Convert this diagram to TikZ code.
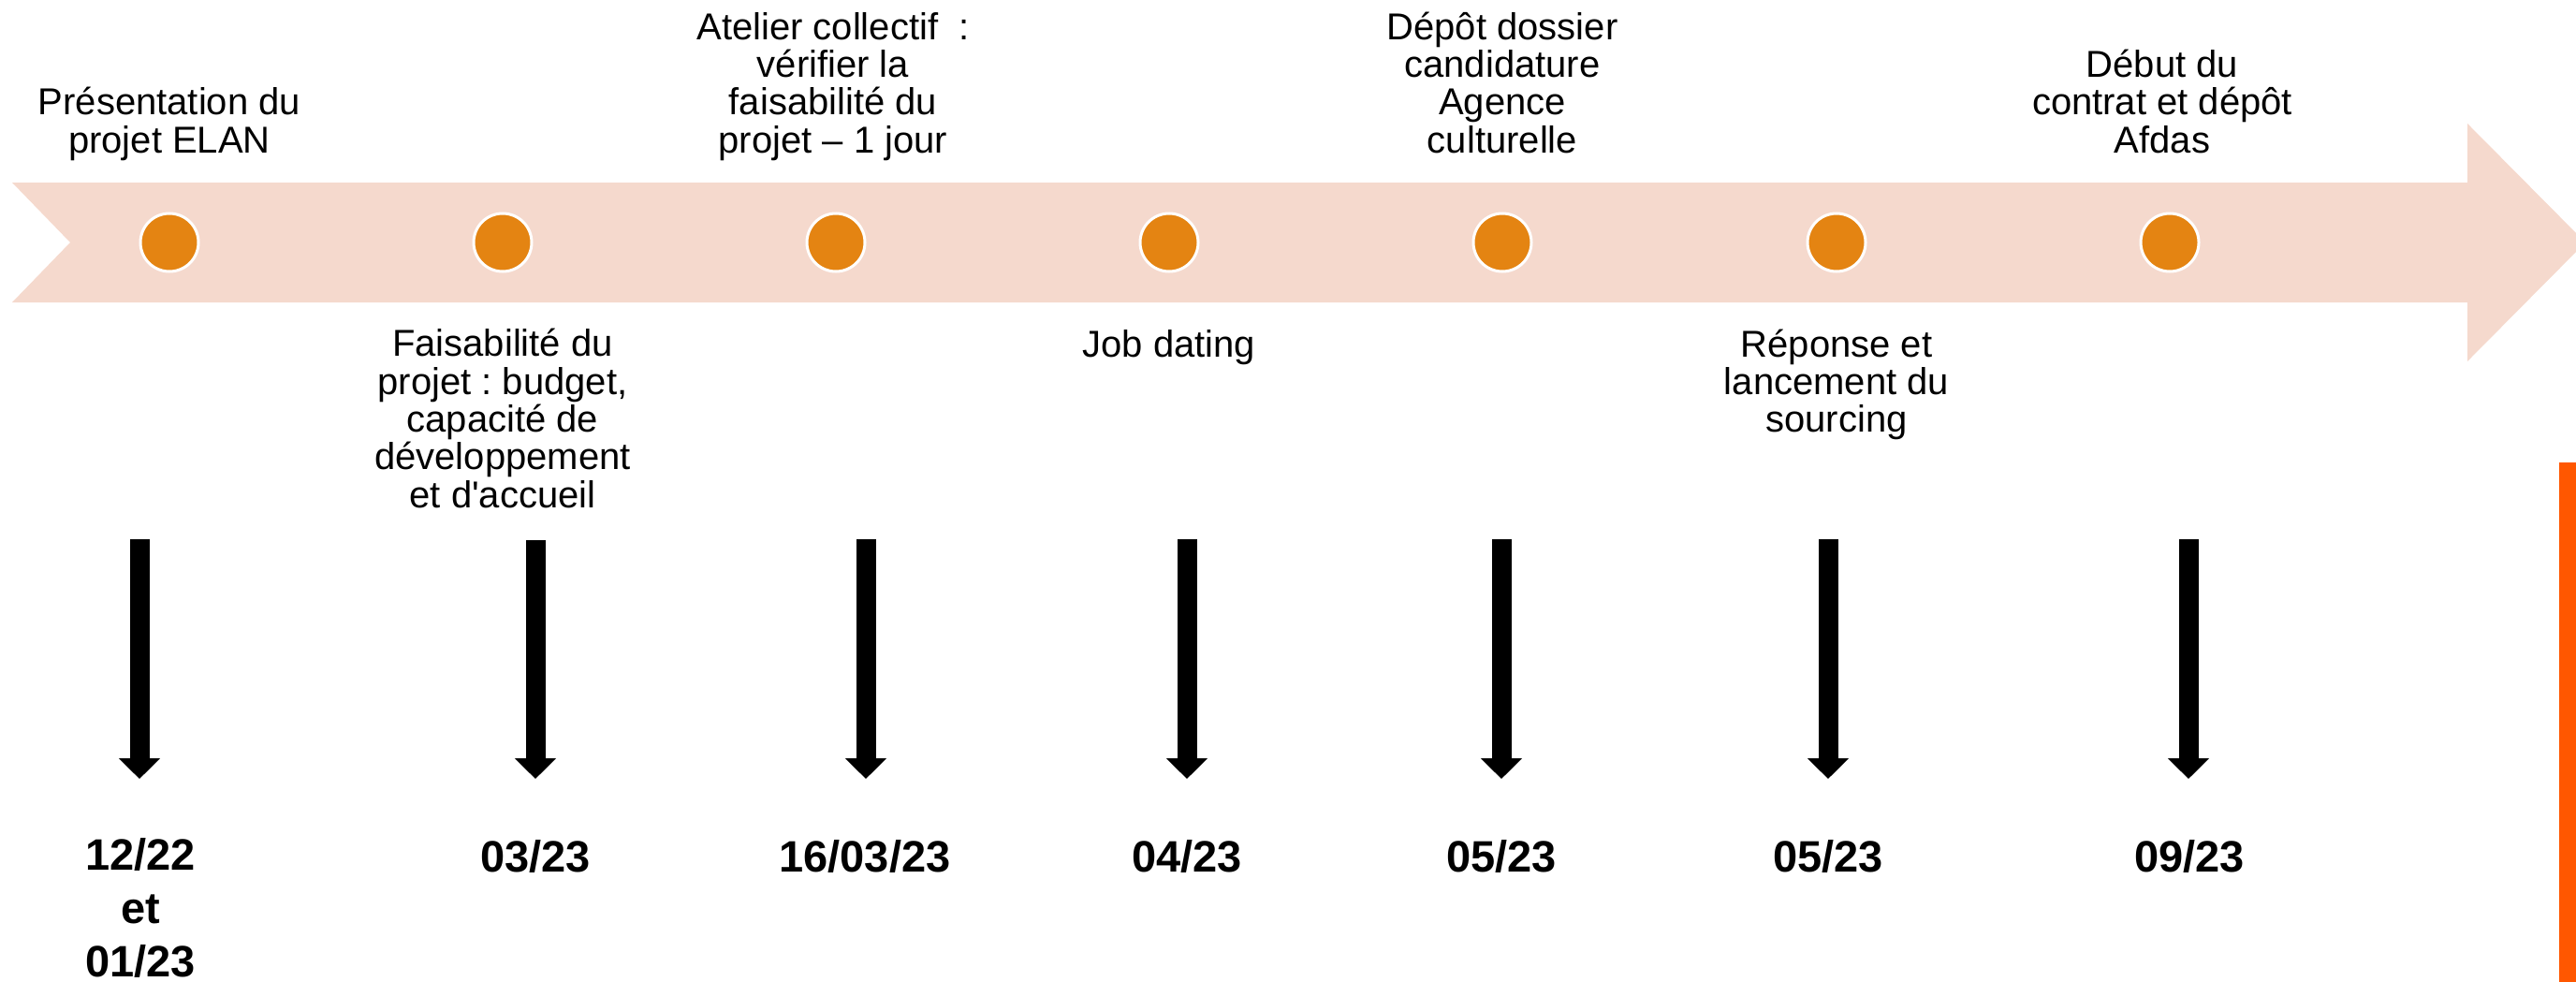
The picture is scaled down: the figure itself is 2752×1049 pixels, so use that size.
\documentclass[tikz,border=0pt]{standalone}
\usepackage{fontspec}
\setmainfont{Liberation Sans}
\usetikzlibrary{arrows.meta}
\definecolor{band}{RGB}{245,217,205}
\definecolor{dot}{RGB}{228,132,18}
\definecolor{sidebar}{RGB}{255,87,0}
\frenchspacing
\begin{document}
\begin{tikzpicture}[x=1pt,y=-1pt,
  dotnode/.style={circle, fill=dot, draw=white, line width=3pt, minimum size=62pt, inner sep=0pt},
  toplabel/.style={align=center, anchor=base, inner sep=0pt, font=\fontsize{40}{40.3}\selectfont},
  datelabel/.style={align=center, anchor=base, inner sep=0pt, font=\fontsize{47}{57}\selectfont\bfseries},
  downarrow/.style={line width=21pt, -{Triangle[width=43pt,length=22pt]}}]
\useasboundingbox (0,0) rectangle (2752,1049);
\clip (0,0) rectangle (2752,1049);
% band arrow
\fill[band] (13,195) -- (2636,195) -- (2636,132) -- (2762,259) -- (2636,386) -- (2636,323) -- (13,323) -- (75,259) -- cycle;
% right side bar
\fill[sidebar] (2734,494) rectangle (2752,1049);
% dots
\node[dotnode] (c1) at (181,259) {};
\node[dotnode] (c2) at (537,259) {};
\node[dotnode] (c3) at (893,259) {};
\node[dotnode] (c4) at (1249,259) {};
\node[dotnode] (c5) at (1605,259) {};
\node[dotnode] (c6) at (1962,259) {};
\node[dotnode] (c7) at (2318,259) {};
% labels above (anchor = baseline of last line)
\node[toplabel] (t1) at (181,163) {Présentation du\\projet ELAN};
\node[toplabel] (t3) at (890,163) {Atelier collectif\ \ :\\vérifier la\\faisabilité du\\projet – 1 jour};
\node[toplabel] (t5) at (1605,163) {Dépôt dossier\\candidature\\Agence\\culturelle};
\node[toplabel] (t7) at (2310,163) {Début du\\contrat et dépôt\\Afdas};
% labels below
\node[toplabel] (b2) at (537,542) {Faisabilité du\\projet : budget,\\capacité de\\développement\\et d\textquotesingle accueil};
\node[toplabel] (b4) at (1249,381) {Job dating};
\node[toplabel] (b6) at (1962,461.6) {Réponse et\\lancement du\\sourcing};
% arrows
\coordinate (a1s) at (149,576); \coordinate (a1e) at (149,832);
\coordinate (a2s) at (572,577); \coordinate (a2e) at (572,832);
\coordinate (a3s) at (925,576); \coordinate (a3e) at (925,832);
\coordinate (a4s) at (1268,576); \coordinate (a4e) at (1268,832);
\coordinate (a5s) at (1604,576); \coordinate (a5e) at (1604,832);
\coordinate (a6s) at (1953,576); \coordinate (a6e) at (1953,832);
\coordinate (a7s) at (2338,576); \coordinate (a7e) at (2338,832);
\foreach \i in {1,...,7} { \draw[downarrow] (a\i s) -- (a\i e); }
% dates
\node[datelabel] (d1) at (150,1043) {12/22\\et\\01/23};
\node[datelabel] (d2) at (572,931) {03/23};
\node[datelabel] (d3) at (924,931) {16/03/23};
\node[datelabel] (d4) at (1268,931) {04/23};
\node[datelabel] (d5) at (1604,931) {05/23};
\node[datelabel] (d6) at (1953,931) {05/23};
\node[datelabel] (d7) at (2339,931) {09/23};
\end{tikzpicture}
\end{document}
